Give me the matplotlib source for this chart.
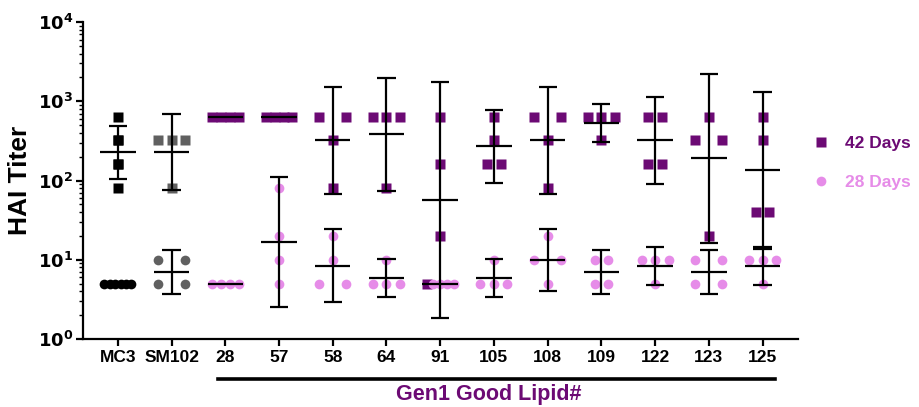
import numpy as np
import matplotlib
matplotlib.use("Agg")
import matplotlib.pyplot as plt
from matplotlib.lines import Line2D
from matplotlib.transforms import blended_transform_factory

plt.rcParams["font.family"] = ["Liberation Sans", "DejaVu Sans"]
plt.rcParams["font.weight"] = "bold"

groups = ["MC3", "SM102", "28", "57", "58", "64", "91", "105", "108", "109", "122", "123", "125"]

# HAI titers, one value per animal
day42 = [
    [640, 320, 320, 160, 160, 80],
    [320, 320, 320, 80],
    [640, 640, 640, 640],
    [640, 640, 640, 640],
    [640, 640, 320, 80],
    [640, 640, 640, 80],
    [640, 160, 20, 5],
    [640, 320, 160, 160],
    [640, 640, 320, 80],
    [640, 640, 640, 320],
    [640, 640, 160, 160],
    [640, 320, 320, 20],
    [640, 320, 40, 40],
]
day28 = [
    [5, 5, 5, 5, 5, 5],
    [10, 10, 5, 5],
    [5, 5, 5, 5],
    [80, 20, 10, 5],
    [20, 10, 5, 5],
    [10, 5, 5, 5],
    [5, 5, 5, 5],
    [10, 5, 5, 5],
    [20, 10, 10, 5],
    [10, 10, 5, 5],
    [10, 10, 10, 5],
    [10, 10, 5, 5],
    [10, 10, 10, 5],
]

PURPLE = "#6C0A74"
PINK = "#E68CE8"
col42 = ["#000000", "#606060"] + [PURPLE] * 11
col28 = ["#000000", "#606060"] + [PINK] * 11

# scatter layout (GraphPad style spreading of equal values)
H = 0.125
tight_pairs = {"105", "109", "122", "125"}
stacked42 = {"MC3"}
T95 = {1: 12.706, 2: 4.303, 3: 3.182, 4: 2.776, 5: 2.571, 6: 2.447, 7: 2.365}


def spread(n, tight):
    if n == 1:
        return [0.0]
    if n == 2:
        w = H if tight else 2 * H
        return [-w, w]
    return list(np.linspace(-2 * H, 2 * H, n))


def gmean_ci(vals):
    lv = np.log(np.asarray(vals, float))
    m = lv.mean()
    if len(vals) < 2 or lv.std() == 0:
        return np.exp(m), np.exp(m), np.exp(m)
    se = lv.std(ddof=1) / np.sqrt(len(vals))
    d = T95[len(vals) - 1] * se
    return np.exp(m), np.exp(m - d), np.exp(m + d)


fig = plt.figure(figsize=(9.19, 4.07), dpi=100)
ax = fig.add_axes([0.0903, 0.167, 0.778, 0.779])
ax.set_yscale("log")
ax.set_ylim(1, 1e4)
ax.set_xlim(-0.65, 12.66)

for i, g in enumerate(groups):
    items = [(v, 42) for v in day42[i]] + [(v, 28) for v in day28[i]]
    rows = {}
    for v, s in items:
        if s == 42 and g in stacked42:
            rows.setdefault((v, "stack"), []).append(s)
        else:
            rows.setdefault(v, []).append(s)
    for key, ss in rows.items():
        v = key[0] if isinstance(key, tuple) else key
        offs = [0.0] * len(ss) if isinstance(key, tuple) else spread(len(ss), g in tight_pairs)
        for o, s in zip(offs, ss):
            if s == 42:
                ax.plot(i + o, v, "s", ms=6.8, color=col42[i], mec="none", zorder=3)
            else:
                ax.plot(i + o, v, "o", ms=7, color=col28[i], mec="none", zorder=3)
    for vals in (day42[i], day28[i]):
        gm, lo, hi = gmean_ci(vals)
        ax.hlines(gm, i - 0.33, i + 0.33, color="black", lw=1.6, zorder=4)
        if hi > lo:
            ax.vlines(i, lo, hi, color="black", lw=1.6, zorder=4)
            ax.hlines([lo, hi], i - 0.17, i + 0.17, color="black", lw=1.6, zorder=4)

for sp in ["top", "right"]:
    ax.spines[sp].set_visible(False)
for sp in ["left", "bottom"]:
    ax.spines[sp].set_linewidth(1.6)

ax.set_xticks(range(len(groups)))
ax.set_xticklabels(groups, fontsize=12.5, fontweight="bold")
ax.tick_params(axis="x", length=5, width=1.6, pad=3)
ax.set_yticks([1, 10, 100, 1000, 10000])
ax.set_yticklabels([r"$\mathbf{10^{%d}}$" % k for k in range(5)], fontsize=13)
ax.tick_params(axis="y", which="major", length=5, width=1.6, pad=2)
ax.tick_params(axis="y", which="minor", length=3, width=1.0)
ax.set_ylabel("HAI Titer", fontsize=19, fontweight="bold", labelpad=4)

tr = blended_transform_factory(ax.transData, ax.transAxes)
ax.plot([1.86, 12.23], [-0.126, -0.126], color="black", lw=2.6, transform=tr, clip_on=False)
ax.text(6.9, -0.176, "Gen1 Good Lipid#", color=PURPLE, fontsize=15.5, fontweight="bold",
        ha="center", va="center", transform=tr)

handles = [Line2D([], [], ls="none", marker="s", ms=6.8, color=PURPLE, mec="none"),
           Line2D([], [], ls="none", marker="o", ms=7, color=PINK, mec="none")]
leg = ax.legend(handles, ["42 Days", "28 Days"], loc="center left", bbox_to_anchor=(0.874, 0.60),
                bbox_transform=fig.transFigure, frameon=False, fontsize=12.5,
                labelspacing=1.35, handletextpad=0.9, handlelength=1.0, borderpad=0)
for t, c in zip(leg.get_texts(), [PURPLE, PINK]):
    t.set_color(c)
    t.set_fontweight("bold")

fig.savefig("out.png", dpi=100)
